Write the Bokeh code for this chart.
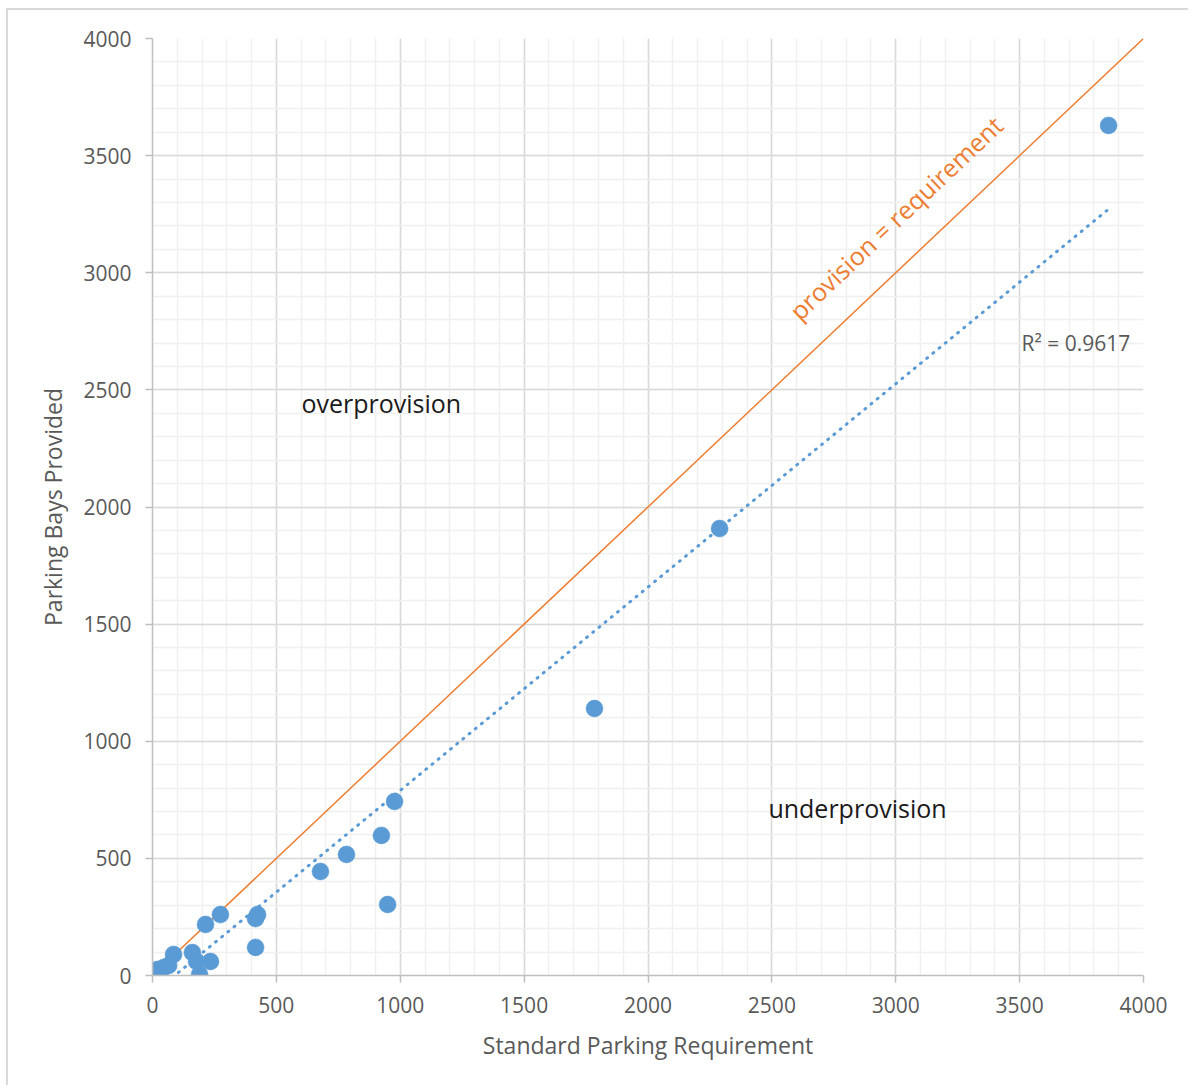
from bokeh.plotting import figure
from bokeh.models import Range1d, SingleIntervalTicker, Label, ColumnDataSource
from bokeh.embed import file_html
from bokeh.resources import INLINE

# Data
standard_requirement = [3859, 2289, 1784, 977, 924, 783, 678, 949, 424, 416, 416,
                        274, 214, 85, 161, 178, 234, 190, 65, 46, 20, 5, 12]
bays_provided = [3629, 1908, 1140, 743, 598, 517, 444, 303, 260, 243, 120,
                 260, 218, 90, 98, 60, 60, 4, 43, 34, 26, 5, 0]

# Linear trendline as shown in the picture
trend_slope = 0.868
trend_intercept = -78.0
r_squared_text = "R\u00b2 = 0.9617"

# provision = requirement line
parity_x = [0, 4000]
parity_y = [0, 4000]

axis_min, axis_max, major_step = 0, 4000, 500

BLUE = "#5B9BD5"
ORANGE = "#ED7D31"
GRAY_TEXT = "#595959"
FONT = "Open Sans"

p = figure(width=1182, height=1077, output_backend="svg", toolbar_location=None,
           x_range=Range1d(axis_min, axis_max), y_range=Range1d(axis_min, axis_max),
           min_border_left=144, min_border_right=47, min_border_top=28, min_border_bottom=112,
           background_fill_color="white", border_fill_color="white")
p.styles = {"margin-left": "8px", "margin-top": "10px",
            "box-shadow": "-2px -2px 0 0 #d9d9d9"}
p.outline_line_color = None

p.xaxis.ticker = SingleIntervalTicker(interval=major_step, num_minor_ticks=5)
p.yaxis.ticker = SingleIntervalTicker(interval=major_step, num_minor_ticks=5)

for grid in (p.xgrid, p.ygrid):
    grid.grid_line_color = "#d9d9d9"
    grid.grid_line_width = 1.5
    grid.minor_grid_line_color = "#f0f0f0"
    grid.minor_grid_line_width = 1.5

for ax in (p.xaxis, p.yaxis):
    ax.axis_line_color = "#bfbfbf"
    ax.axis_line_width = 1.5
    ax.major_tick_line_color = "#bfbfbf"
    ax.major_tick_line_width = 1.5
    ax.major_tick_out = 7
    ax.major_tick_in = 0
    ax.minor_tick_out = 0
    ax.minor_tick_in = 0
    ax.major_label_text_font = FONT
    ax.major_label_text_font_size = "21px"
    ax.major_label_text_color = GRAY_TEXT
    ax.axis_label_text_font = FONT
    ax.axis_label_text_font_size = "23px"
    ax.axis_label_text_font_style = "normal"
    ax.axis_label_text_color = GRAY_TEXT

p.xaxis.axis_label = "Standard Parking Requirement"
p.yaxis.axis_label = "Parking Bays Provided"
p.xaxis.major_label_standoff = 14
p.yaxis.major_label_standoff = 14
p.xaxis.axis_label_standoff = 13
p.yaxis.axis_label_standoff = 11

# parity line
p.line(parity_x, parity_y, line_color=ORANGE, line_width=1.5)

# trendline
tx = [min(standard_requirement), max(standard_requirement)]
ty = [trend_slope * v + trend_intercept for v in tx]
p.line(tx, ty, line_color=BLUE, line_width=3, line_dash="1 7", line_cap="round")

# points
src = ColumnDataSource(dict(x=standard_requirement, y=bays_provided))
p.scatter("x", "y", source=src, size=17, fill_color=BLUE, line_color=BLUE, line_width=0.5)

# annotations
p.add_layout(Label(x=601, y=2446, text="overprovision", text_font=FONT, text_font_size="25px",
                   text_color="#1a1a1a", text_baseline="middle", text_align="left"))
p.add_layout(Label(x=2486, y=713, text="underprovision", text_font=FONT, text_font_size="25px",
                   text_color="#1a1a1a", text_baseline="middle", text_align="left"))
p.add_layout(Label(x=3508, y=2698, text=r_squared_text, text_font=FONT, text_font_size="21px",
                   text_color=GRAY_TEXT, text_baseline="middle", text_align="left"))
p.add_layout(Label(x=3000, y=3235, text="provision = requirement", text_font=FONT,
                   text_font_size="25px", text_color=ORANGE, text_baseline="middle",
                   text_align="center", angle=43.4, angle_units="deg"))

open("out.html", "w").write(file_html(p, INLINE))
